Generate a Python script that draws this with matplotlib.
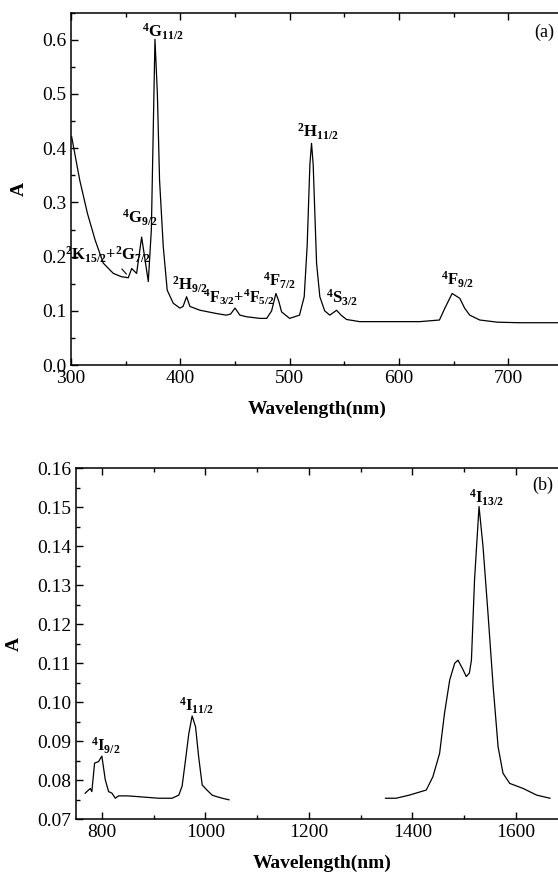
import numpy as np
import matplotlib
matplotlib.use("Agg")
import matplotlib.pyplot as plt
from matplotlib.ticker import MultipleLocator, FormatStrFormatter

# --- data ---
# (a) UV-Vis spectrum
wl_a = [300.6, 308, 315, 322, 329.5, 338.7, 346, 352.4, 355.5, 360, 364.6, 370.7, 373.5,
        376.8, 379, 381, 384.4, 388, 393.5, 399.6, 402.5, 405.7, 408.8, 418, 433, 442,
        446, 450, 454.5, 460.6, 472.8, 479, 483.5, 487.4, 490, 492.6, 500, 509, 513.3,
        516, 518.5, 520, 521.5, 524.6, 527.6, 532, 536.7, 542.9, 547, 552, 564, 590,
        619, 637, 642, 648.6, 655.6, 660, 664.7, 673.9, 690, 710, 744, 750]
abs_a = [0.421, 0.341, 0.280, 0.231, 0.188, 0.169, 0.163, 0.161, 0.178, 0.169, 0.236, 0.154, 0.25,
         0.601, 0.50, 0.341, 0.218, 0.138, 0.114, 0.105, 0.108, 0.126, 0.108, 0.101, 0.095, 0.092,
         0.094, 0.105, 0.092, 0.089, 0.086, 0.086, 0.100, 0.132, 0.118, 0.098, 0.086, 0.092, 0.126,
         0.22, 0.37, 0.409, 0.37, 0.188, 0.126, 0.100, 0.092, 0.101, 0.092, 0.084, 0.080, 0.080,
         0.080, 0.083, 0.105, 0.132, 0.123, 0.105, 0.092, 0.083, 0.079, 0.078, 0.078, 0.078]

# (b) NIR spectrum, two measured segments
wl_b1 = [767.8, 777.5, 780.6, 785.9, 793.6, 800, 806.6, 813, 819.4, 826, 832, 850, 871,
         890, 910, 935.7, 948.6, 955, 961.6, 968, 974.4, 981, 987, 993.8, 1003, 1013,
         1022, 1032.6, 1045.5]
abs_b1 = [0.0767, 0.0779, 0.0771, 0.0844, 0.0848, 0.0862, 0.0801, 0.0771, 0.0767, 0.0754,
          0.0760, 0.0760, 0.0758, 0.0756, 0.0754, 0.0754, 0.0762, 0.0785, 0.0852, 0.0920,
          0.0965, 0.0937, 0.0860, 0.0788, 0.0775, 0.0762, 0.0758, 0.0754, 0.0750]
wl_b2 = [1347.9, 1368.6, 1394, 1426.7, 1439.5, 1452.5, 1462, 1472, 1481.6, 1488, 1496.5,
         1504, 1510, 1514, 1520, 1528.7, 1536.4, 1546, 1556, 1565.5, 1575, 1588, 1614,
         1640, 1665.7]
abs_b2 = [0.0754, 0.0754, 0.0762, 0.0775, 0.0809, 0.0869, 0.0972, 0.1057, 0.1100, 0.1108,
          0.1087, 0.1066, 0.1075, 0.1108, 0.1314, 0.1502, 0.1399, 0.1228, 0.1040, 0.0886,
          0.0818, 0.0792, 0.0779, 0.0762, 0.0754]

labels_a = [r'$\mathbf{{}^{4}G_{11/2}}$', r'$\mathbf{{}^{4}G_{9/2}}$',
            r'$\mathbf{{}^{2}K_{15/2}{+}{}^{2}G_{7/2}}$', r'$\mathbf{{}^{2}H_{9/2}}$',
            r'$\mathbf{{}^{4}F_{3/2}{+}{}^{4}F_{5/2}}$', r'$\mathbf{{}^{4}F_{7/2}}$',
            r'$\mathbf{{}^{2}H_{11/2}}$', r'$\mathbf{{}^{4}S_{3/2}}$', r'$\mathbf{{}^{4}F_{9/2}}$']
lab_a_x = [384, 363, 334, 409, 454, 491, 526, 548, 654]
lab_a_y = [0.614, 0.271, 0.203, 0.148, 0.126, 0.155, 0.43, 0.124, 0.157]
lab_a_size = [12, 12, 12, 12, 11.5, 12, 12, 12, 12]
pointer_a = [(352.4, 0.164), (344.8, 0.181)]

labels_b = [r'$\mathbf{{}^{4}I_{9/2}}$', r'$\mathbf{{}^{4}I_{11/2}}$', r'$\mathbf{{}^{4}I_{13/2}}$']
lab_b_x = [806.6, 982.6, 1543]
lab_b_y = [0.0889, 0.0991, 0.1524]

plt.rcParams['font.family'] = ['Liberation Serif', 'DejaVu Serif']
plt.rcParams['mathtext.fontset'] = 'custom'
plt.rcParams['mathtext.rm'] = 'Liberation Serif'
plt.rcParams['mathtext.bf'] = 'Liberation Serif:bold'
plt.rcParams['mathtext.it'] = 'Liberation Serif:italic'

fig = plt.figure(figsize=(5.58, 8.73), dpi=100)
ax1 = fig.add_axes([71 / 558, 1 - 365 / 873, 492 / 558, 352.3 / 873])
ax2 = fig.add_axes([76 / 558, 1 - 819.3 / 873, 491.7 / 558, 351 / 873])


def style(ax):
    for s in ax.spines.values():
        s.set_linewidth(1.1)
    ax.tick_params(which='both', direction='in', top=True, right=False,
                   labelsize=14, width=1.0)
    ax.tick_params(which='major', length=5)
    ax.tick_params(which='minor', length=3)
    ax.set_xlabel('Wavelength(nm)', fontsize=14, fontweight='bold', labelpad=10)
    ax.set_ylabel('A', fontsize=14, fontweight='bold', labelpad=10)


# --- panel (a) ---
ax1.plot(wl_a, abs_a, color='black', lw=0.9)
ax1.set_xlim(300, 750)
ax1.set_ylim(0, 0.65)
ax1.xaxis.set_major_locator(MultipleLocator(100))
ax1.xaxis.set_minor_locator(MultipleLocator(50))
ax1.yaxis.set_major_locator(MultipleLocator(0.1))
ax1.yaxis.set_minor_locator(MultipleLocator(0.05))
ax1.yaxis.set_major_formatter(FormatStrFormatter('%.1f'))
style(ax1)
for t, x, y, s in zip(labels_a, lab_a_x, lab_a_y, lab_a_size):
    ax1.text(x, y, t, fontsize=s, ha='center', va='center')
ax1.annotate('', xy=pointer_a[0], xytext=pointer_a[1],
             arrowprops=dict(arrowstyle='-', lw=0.8, color='black'))
fig.text(544 / 558, 1 - 32.5 / 873, '(a)', fontsize=13, ha='center', va='center')

# --- panel (b) ---
ax2.plot(wl_b1, abs_b1, color='black', lw=0.9)
ax2.plot(wl_b2, abs_b2, color='black', lw=0.9)
ax2.set_xlim(750, 1700)
ax2.set_ylim(0.07, 0.16)
ax2.xaxis.set_major_locator(MultipleLocator(200))
ax2.xaxis.set_minor_locator(MultipleLocator(100))
ax2.yaxis.set_major_locator(MultipleLocator(0.01))
ax2.yaxis.set_minor_locator(MultipleLocator(0.005))
ax2.yaxis.set_major_formatter(FormatStrFormatter('%.2f'))
style(ax2)
for t, x, y in zip(labels_b, lab_b_x, lab_b_y):
    ax2.text(x, y, t, fontsize=12, ha='center', va='center')
fig.text(543 / 558, 1 - 485 / 873, '(b)', fontsize=13, ha='center', va='center')

fig.savefig('out.png', dpi=100)
